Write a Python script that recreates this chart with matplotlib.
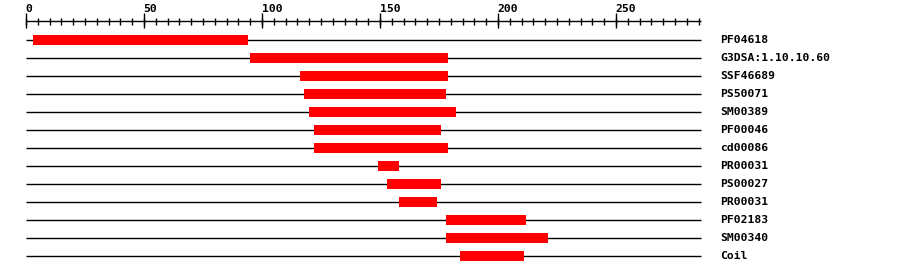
import numpy as np
import matplotlib
matplotlib.use("Agg")
from matplotlib import pyplot as plt

# Datos: dominios de la proteína (inicio, fin)
labels = ["PF04618", "G3DSA:1.10.10.60", "SSF46689", "PS50071", "SM00389",
          "PF00046", "cd00086", "PR00031", "PS00027", "PR00031",
          "PF02183", "SM00340", "Coil"]
starts = [3, 95, 116, 118, 120, 122, 122, 149, 153, 158, 178, 178, 184]
ends = [94, 179, 179, 178, 182, 176, 179, 158, 176, 174, 212, 221, 211]
seq_len = 286
major_ticks = [0, 50, 100, 150, 200, 250]

px = 2.36  # pixeles por residuo
x0 = 26    # pixel del 0
row0, row_h = 40, 18

fig = plt.figure(figsize=(9, 2.74), dpi=100)
ax = fig.add_axes([0, 0, 1, 1])
ax.set_xlim(-x0 / px, (900 - x0) / px)
ax.set_ylim((274 - row0) / row_h, (0 - row0) / row_h)
ax.axis("off")

font = dict(family="DejaVu Sans Mono", weight="bold", size=8.2)

def py(p):
    return (p - row0) / row_h

# Regla superior
lw = 1.0
ax.hlines(py(21), 0, seq_len, color="black", lw=lw, snap=True)
minor = np.arange(0, seq_len + 1, 5)
ax.vlines(minor, py(18), py(25), color="black", lw=lw, snap=True)
ax.vlines(major_ticks, py(13), py(28), color="black", lw=lw, snap=True)
for t in major_ticks:
    ax.text(t - 0.2, py(12), str(t), ha="left", va="baseline", **font)

# Filas
n = len(labels)
rows = np.arange(n)
ax.hlines(rows, 0, seq_len, color="black", lw=lw, snap=True, zorder=1)
ax.barh(rows, np.array(ends) - np.array(starts), left=starts,
        height=10 / row_h, color="#ff0000", edgecolor="none", zorder=2)
for i, lab in enumerate(labels):
    ax.text((720 - x0) / px, i, lab, ha="left", va="center", **font)

fig.savefig("out.png", dpi=100)
